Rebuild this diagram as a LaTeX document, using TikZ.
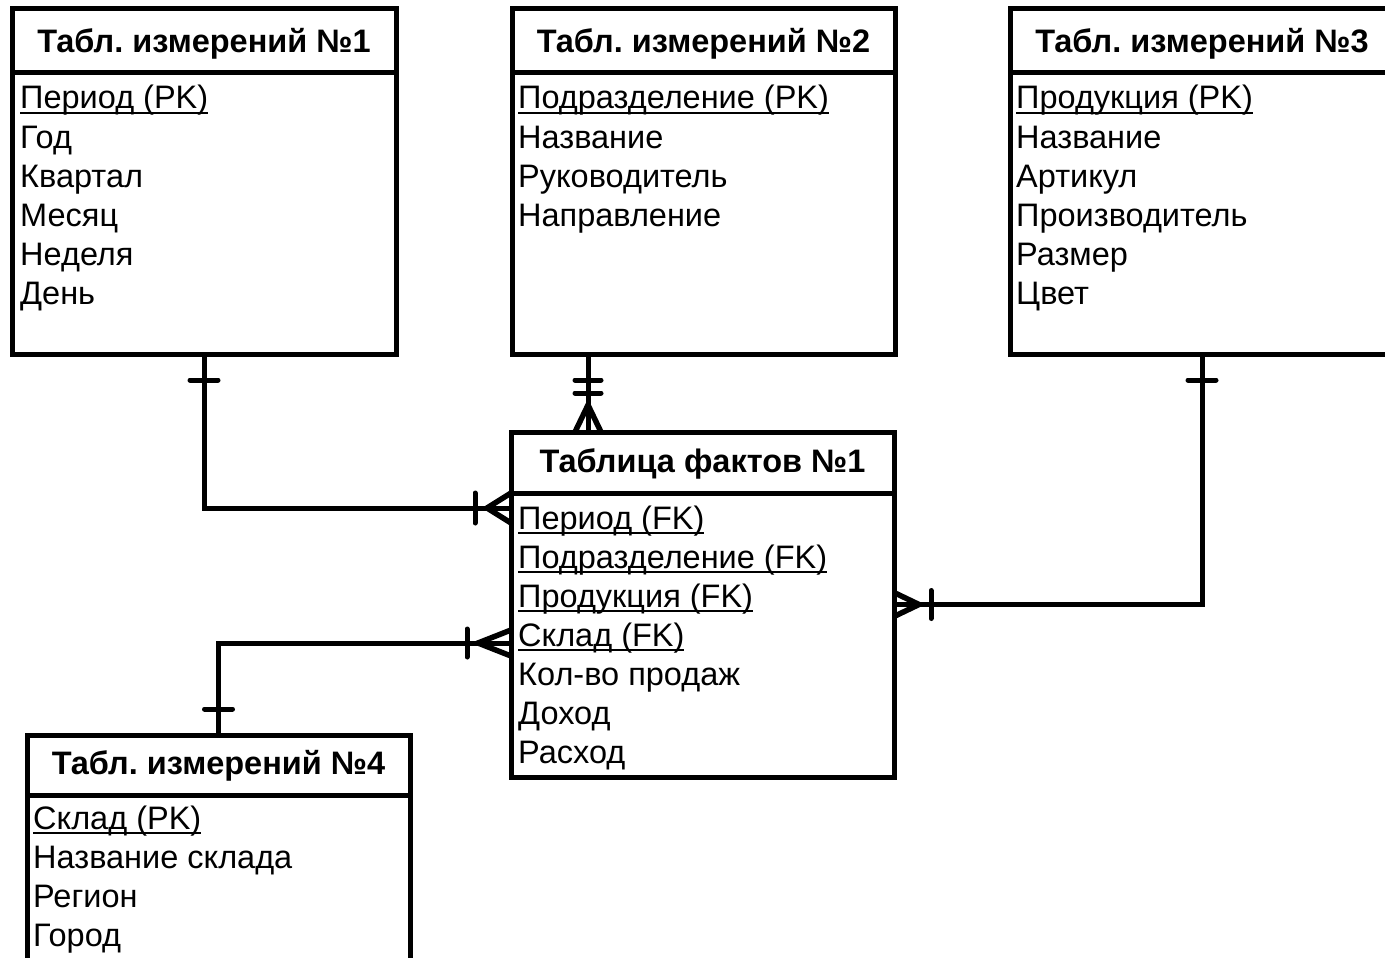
\documentclass[tikz,border=0pt]{standalone}
\usepackage{fontspec}
\setmainfont{Liberation Sans}
\usetikzlibrary{calc}
\frenchspacing
\newcommand\ulx[1]{\setbox0\hbox{#1}\rlap{\vrule height -3pt depth 5pt width \wd0}\box0}
\begin{document}
\begin{tikzpicture}[x=1pt,y=-1pt,
  tbl/.style={draw, line width=5pt, rectangle, inner sep=0pt, outer sep=0pt},
  conn/.style={line width=5pt},
  bar/.style={line width=5pt, line cap=round},
  crow/.style={line width=5.5pt, line cap=butt},
  hdr/.style={font=\bfseries\fontsize{32.5}{38}\selectfont, anchor=base, inner sep=0pt},
  row/.style={font=\fontsize{32.5}{39}\selectfont, anchor=base west, inner sep=0pt}]
\useasboundingbox (0,0) rectangle (1385,958);
\clip (0,0) rectangle (1385,958);
\fill[white] (0,0) rectangle (1385,958);

% boxes
\node[tbl, minimum width=384pt, minimum height=345pt] (t1) at (204,181.5) {};
\node[tbl, minimum width=383pt, minimum height=345pt] (t2) at (703.5,181.5) {};
\node[tbl, minimum width=384pt, minimum height=345pt] (t3) at (1202,181.5) {};
\node[tbl, minimum width=383pt, minimum height=345pt] (f) at (702.5,604.5) {};
\node[tbl, minimum width=383pt, minimum height=345pt] (t4) at (218.5,907.5) {};

% header separators
\foreach \b/\d in {t1/63.5, t2/63.5, t3/63.5, f/61, t4/60}{
  \draw[conn] ($(\b.north west)+(0,\d)$) -- ($(\b.north east)+(0,\d)$);
}

% headers
\node[hdr] (h1) at ($(t1.north)+(0,44)$) {Табл. измерений №1};
\node[hdr] (h2) at ($(t2.north)+(0,44)$) {Табл. измерений №2};
\node[hdr] (h3) at ($(t3.north)+(0,44)$) {Табл. измерений №3};
\node[hdr] (hf) at ($(f.north)+(0,40)$) {Таблица фактов №1};
\node[hdr] (h4) at ($(t4.north)+(0,39)$) {Табл. измерений №4};

% table 1 rows
\node[row] (a1) at (20,109) {\ulx{Период (PK)}};
\node[row] (a2) at (20,148) {Год};
\node[row] (a3) at (20,187) {Квартал};
\node[row] (a4) at (20,226) {Месяц};
\node[row] (a5) at (20,265) {Неделя};
\node[row] (a6) at (20,304) {День};

% table 2 rows
\node[row] (b1) at (518,109) {\ulx{Подразделение (PK)}};
\node[row] (b2) at (518,148) {Название};
\node[row] (b3) at (518,187) {Руководитель};
\node[row] (b4) at (518,226) {Направление};

% table 3 rows
\node[row] (c1) at (1016,109) {\ulx{Продукция (PK)}};
\node[row] (c2) at (1016,148) {Название};
\node[row] (c3) at (1016,187) {Артикул};
\node[row] (c4) at (1016,226) {Производитель};
\node[row] (c5) at (1016,265) {Размер};
\node[row] (c6) at (1016,304) {Цвет};

% fact rows
\node[row] (f1) at (518,529) {\ulx{Период (FK)}};
\node[row] (f2) at (518,568) {\ulx{Подразделение (FK)}};
\node[row] (f3) at (518,607) {\ulx{Продукция (FK)}};
\node[row] (f4) at (518,646) {\ulx{Склад (FK)}};
\node[row] (f5) at (518,685) {Кол-во продаж};
\node[row] (f6) at (518,724) {Доход};
\node[row] (f7) at (518,763) {Расход};

% table 4 rows
\node[row] (d1) at (33,829) {\ulx{Склад (PK)}};
\node[row] (d2) at (33,868) {Название склада};
\node[row] (d3) at (33,907) {Регион};
\node[row] (d4) at (33,946) {Город};

% connector 1: t1 -> f
\coordinate (k1) at (0,508);
\coordinate (e1) at (f.west |- k1);
\draw[conn] (t1.south) |- (e1);
\draw[bar] ($(t1.south)+(-14,26)$) -- ($(t1.south)+(14,26)$);
\draw[bar] ($(e1)+(-36,-15)$) -- ($(e1)+(-36,15)$);
\draw[crow] ($(e1)+(0,-15)$) -- ($(e1)+(-24,0)$) -- ($(e1)+(0,15)$);

% connector 2: t2 -> f
\coordinate (k2) at (588,0);
\coordinate (s2) at (t2.south -| k2);
\coordinate (e2) at (f.north -| k2);
\draw[conn] (s2) -- (e2);
\draw[bar] ($(s2)+(-13,26)$) -- ($(s2)+(13,26)$);
\draw[bar] ($(s2)+(-13,39)$) -- ($(s2)+(13,39)$);
\draw[crow] ($(e2)+(-13,0)$) -- ($(e2)+(0,-27)$) -- ($(e2)+(13,0)$);

% connector 3: t3 -> f
\draw[conn] (t3.south) |- (f.east);
\draw[bar] ($(t3.south)+(-14,26)$) -- ($(t3.south)+(14,26)$);
\draw[bar] ($(f.east)+(37,-14)$) -- ($(f.east)+(37,14)$);
\draw[crow] ($(f.east)+(0,-12)$) -- ($(f.east)+(25,0)$) -- ($(f.east)+(0,12)$);

% connector 4: t4 -> f
\coordinate (k4) at (0,643);
\coordinate (e4) at (f.west |- k4);
\draw[conn] (t4.north) |- (e4);
\draw[bar] ($(t4.north)+(-14,-26)$) -- ($(t4.north)+(14,-26)$);
\draw[bar] ($(e4)+(-44,-14)$) -- ($(e4)+(-44,14)$);
\draw[crow] ($(e4)+(0,-13)$) -- ($(e4)+(-33,0)$) -- ($(e4)+(0,13)$);
\end{tikzpicture}
\end{document}
